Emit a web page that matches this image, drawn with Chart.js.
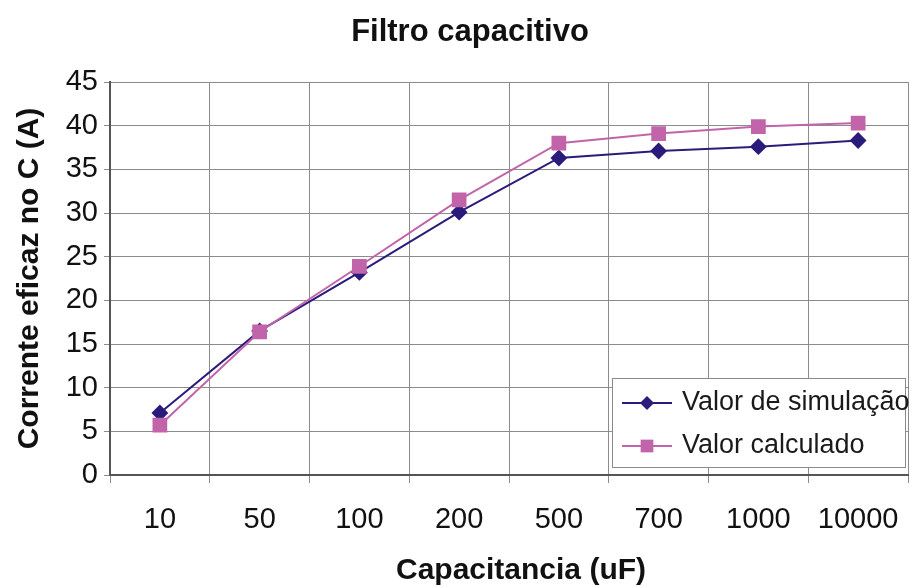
<!DOCTYPE html>
<html>
<head>
<meta charset="utf-8">
<script src="https://cdn.jsdelivr.net/npm/chart.js@4"></script>
<style>
html, body { margin: 0; padding: 0; background: #fff; }
</style>
</head>
<body>
<canvas id="filtroChart" width="912" height="587"></canvas>
<script>
// data
const capacitancias = ['10', '50', '100', '200', '500', '700', '1000', '10000'];
const valorSimulacao = [7.1, 16.5, 23.2, 30.1, 36.3, 37.1, 37.6, 38.3];
const valorCalculado = [5.7, 16.4, 23.9, 31.5, 38.0, 39.1, 39.9, 40.3];
const yMin = 0;
const yMax = 45;
const yStep = 5;

const tituloGrafico = 'Filtro capacitivo';
const tituloX = 'Capacitancia (uF)';
const tituloY = 'Corrente eficaz no C (A)';

const corSimulacao = '#2a1c7a';
const corCalculado = '#c264aa';
const fonte = '"Liberation Sans", Arial, sans-serif';

// titles sit a bit right of the plot centre in the original, so draw them by hand
const titulos = {
    id: 'titulos',
    afterDraw(chart) {
        const { ctx, chartArea } = chart;
        const cx = (chartArea.left + chartArea.right) / 2;
        ctx.save();
        ctx.fillStyle = '#111';
        ctx.textAlign = 'center';
        ctx.textBaseline = 'middle';
        ctx.font = 'bold 31px ' + fonte;
        ctx.fillText(tituloGrafico, cx - 39, chartArea.top - 50);
        ctx.font = 'bold 30px ' + fonte;
        ctx.fillText(tituloX, cx + 12, chartArea.bottom + 96);
        ctx.restore();
    }
};

// legend drawn inside the plot, bottom right, like the original
const boxLegend = {
    id: 'boxLegend',
    afterDatasetsDraw(chart) {
        const { ctx, chartArea } = chart;
        const w = 293, h = 89;
        const x = chartArea.right - w - 3;
        const y = chartArea.bottom - h - 8;
        ctx.save();
        ctx.fillStyle = '#fff';
        ctx.fillRect(x, y, w, h);
        ctx.strokeStyle = '#8a8a8a';
        ctx.lineWidth = 1;
        ctx.strokeRect(x + 0.5, y + 0.5, w, h);

        chart.data.datasets.forEach((ds, i) => {
            const ly = y + 25 + i * 43;
            const mx = x + 35;
            ctx.strokeStyle = ds.borderColor;
            ctx.lineWidth = 2;
            ctx.beginPath();
            ctx.moveTo(x + 10, ly);
            ctx.lineTo(x + 60, ly);
            ctx.stroke();
            ctx.fillStyle = ds.pointBackgroundColor;
            ctx.beginPath();
            if (ds.pointStyle === 'rectRot') {
                const r = ds.pointRadius;
                ctx.moveTo(mx, ly - r);
                ctx.lineTo(mx + r, ly);
                ctx.lineTo(mx, ly + r);
                ctx.lineTo(mx - r, ly);
                ctx.closePath();
            } else {
                const s = ds.pointRadius * Math.SQRT1_2;
                ctx.rect(mx - s, ly - s, 2 * s, 2 * s);
            }
            ctx.fill();
            ctx.fillStyle = '#1a1a1a';
            ctx.font = '27px ' + fonte;
            ctx.textBaseline = 'middle';
            ctx.textAlign = 'left';
            ctx.fillText(ds.label, x + 70, ly);
        });
        ctx.restore();
    }
};

new Chart(document.getElementById('filtroChart'), {
    type: 'line',
    data: {
        labels: capacitancias,
        datasets: [
            {
                label: 'Valor de simulação',
                data: valorSimulacao,
                borderColor: corSimulacao,
                backgroundColor: corSimulacao,
                pointBackgroundColor: corSimulacao,
                pointBorderColor: corSimulacao,
                pointStyle: 'rectRot',
                pointRadius: 7,
                borderWidth: 2,
                tension: 0,
                order: 1
            },
            {
                label: 'Valor calculado',
                data: valorCalculado,
                borderColor: corCalculado,
                backgroundColor: corCalculado,
                pointBackgroundColor: corCalculado,
                pointBorderColor: corCalculado,
                pointStyle: 'rect',
                pointRadius: 9,
                borderWidth: 2,
                tension: 0,
                order: 0
            }
        ]
    },
    options: {
        responsive: false,
        animation: false,
        layout: { autoPadding: false, padding: { left: 0, right: 4, top: 82, bottom: 0 } },
        scales: {
            x: {
                offset: true,
                grid: { offset: true, color: '#8c8c8c', tickLength: 8, lineWidth: 1 },
                border: { color: '#555', width: 2 },
                ticks: {
                    color: '#111',
                    padding: 20,
                    maxRotation: 0,
                    font: { family: fonte, size: 29 }
                },
                afterFit(scale) {
                    scale.height = 112;
                    scale.paddingLeft = 0;
                    scale.paddingRight = 0;
                }
            },
            y: {
                min: yMin,
                max: yMax,
                ticks: {
                    stepSize: yStep,
                    color: '#111',
                    padding: 6,
                    font: { family: fonte, size: 29 }
                },
                grid: { color: '#8c8c8c', tickLength: 6, lineWidth: 1 },
                border: { color: '#555', width: 2 },
                title: {
                    display: true,
                    text: tituloY,
                    color: '#111',
                    padding: { top: 12, bottom: 0 },
                    font: { family: fonte, size: 30, weight: 'bold', lineHeight: 1.2 }
                },
                afterFit(scale) {
                    scale.width = 110;
                    scale.paddingTop = 0;
                    scale.paddingBottom = 0;
                }
            }
        },
        plugins: {
            legend: { display: false },
            tooltip: { enabled: false },
            title: { display: false }
        }
    },
    plugins: [boxLegend, titulos]
});
</script>
</body>
</html>
